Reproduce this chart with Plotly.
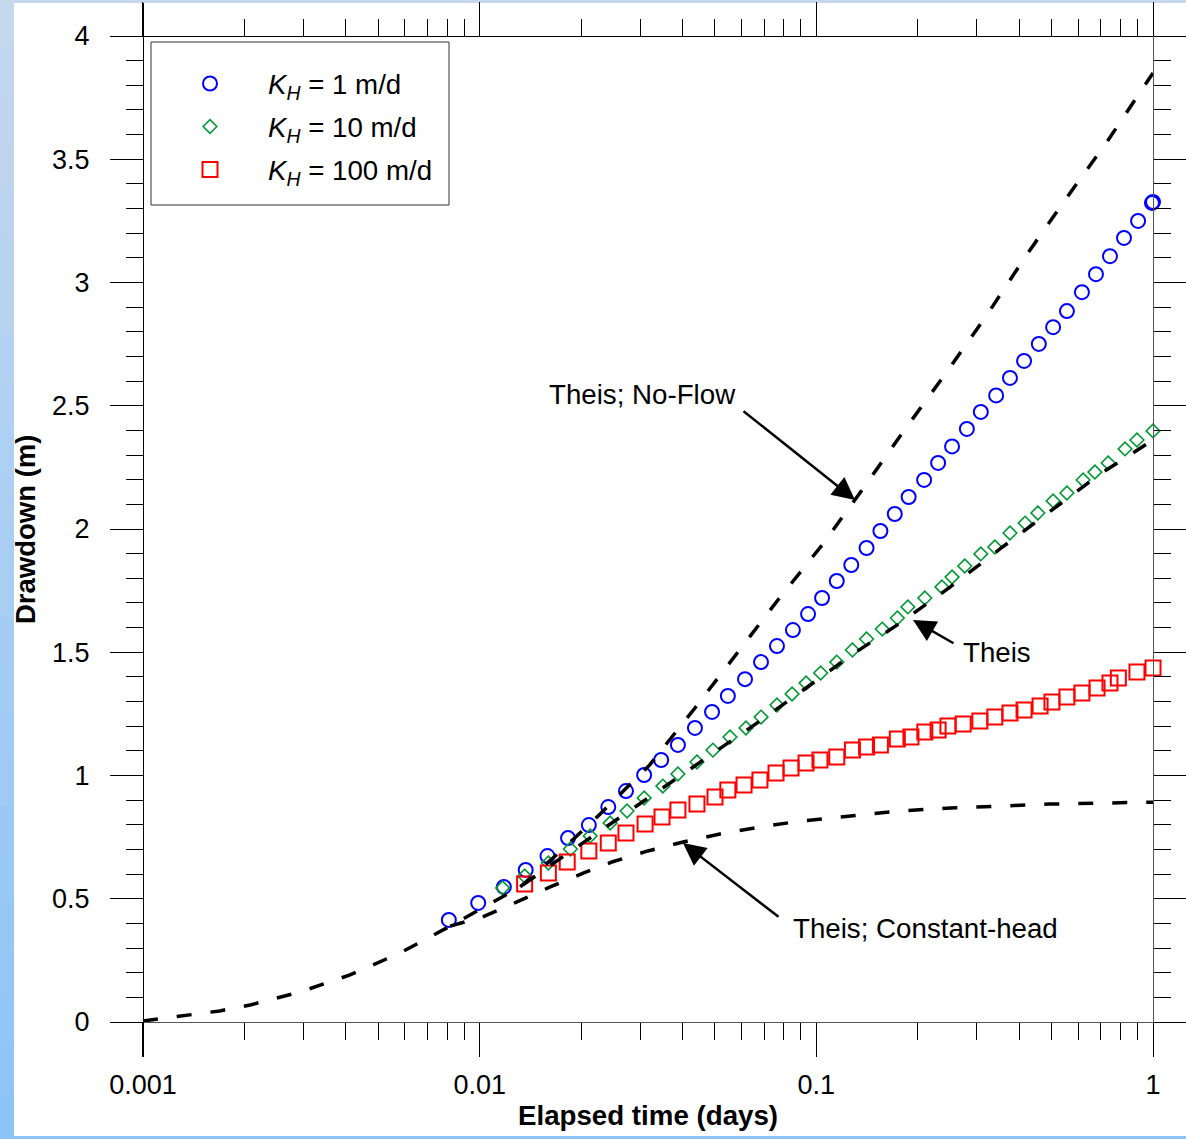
import plotly.graph_objects as go

# ---------------- data ----------------
t_kh1 = [0.0081, 0.0099, 0.0118, 0.0137, 0.0159, 0.0183, 0.0211, 0.0241, 0.0272, 0.0308,
         0.0346, 0.0388, 0.0436, 0.049, 0.0546, 0.0614, 0.0685, 0.0764, 0.0852, 0.0945,
         0.104, 0.115, 0.127, 0.141, 0.155, 0.171, 0.188, 0.209, 0.23, 0.253,
         0.28, 0.308, 0.342, 0.376, 0.414, 0.458, 0.505, 0.555, 0.615, 0.677,
         0.745, 0.82, 0.903, 0.993, 1.0]
s_kh1 = [0.414, 0.483, 0.548, 0.617, 0.673, 0.746, 0.799, 0.872, 0.937, 1.002,
         1.063, 1.124, 1.193, 1.258, 1.323, 1.391, 1.460, 1.525, 1.590, 1.655,
         1.720, 1.789, 1.854, 1.923, 1.992, 2.061, 2.130, 2.199, 2.268, 2.335,
         2.406, 2.475, 2.542, 2.613, 2.682, 2.751, 2.819, 2.884, 2.961, 3.034,
         3.107, 3.181, 3.250, 3.323, 3.327]

t_kh10 = [0.0117, 0.0136, 0.016, 0.0186, 0.0213, 0.0244, 0.0274, 0.0308, 0.035, 0.0388,
          0.0442, 0.0493, 0.0554, 0.0618, 0.0685, 0.0764, 0.0847, 0.0932, 0.103, 0.115,
          0.128, 0.141, 0.157, 0.174, 0.187, 0.21, 0.236, 0.253, 0.276, 0.308,
          0.339, 0.376, 0.417, 0.455, 0.505, 0.555, 0.62, 0.672, 0.736, 0.826,
          0.896, 1.0]
s_kh10 = [0.544, 0.592, 0.645, 0.702, 0.755, 0.807, 0.856, 0.909, 0.957, 1.006,
          1.055, 1.103, 1.156, 1.193, 1.237, 1.286, 1.331, 1.375, 1.416, 1.460,
          1.509, 1.554, 1.594, 1.639, 1.684, 1.720, 1.765, 1.805, 1.850, 1.899,
          1.927, 1.984, 2.024, 2.065, 2.114, 2.146, 2.199, 2.231, 2.268, 2.325,
          2.361, 2.398]

t_kh100 = [0.0136, 0.016, 0.0182, 0.0211, 0.0241, 0.0272, 0.031, 0.0348, 0.0388, 0.0442,
           0.05, 0.0546, 0.061, 0.068, 0.0759, 0.0841, 0.0932, 0.1025, 0.115, 0.128,
           0.141, 0.155, 0.174, 0.191, 0.21, 0.23, 0.246, 0.273, 0.306, 0.339,
           0.376, 0.414, 0.462, 0.501, 0.555, 0.615, 0.682, 0.745, 0.789, 0.896, 1.0]
s_kh100 = [0.560, 0.604, 0.649, 0.694, 0.726, 0.767, 0.803, 0.832, 0.860, 0.884,
           0.913, 0.941, 0.961, 0.982, 1.010, 1.030, 1.051, 1.063, 1.075, 1.103,
           1.116, 1.124, 1.148, 1.156, 1.176, 1.185, 1.201, 1.209, 1.221, 1.237,
           1.254, 1.266, 1.282, 1.298, 1.318, 1.335, 1.355, 1.375, 1.396, 1.420, 1.436]

t_theis = [0.001, 0.00133, 0.00169, 0.00208, 0.00293, 0.00412, 0.0058, 0.00817, 0.0102, 0.0132,
           0.0173, 0.0228, 0.032, 0.0493, 0.068, 0.0932, 0.126, 0.174, 0.25, 0.351,
           0.505, 0.696, 1.0]
s_theis = [0.004, 0.028, 0.045, 0.069, 0.122, 0.191, 0.280, 0.389, 0.462, 0.548,
           0.662, 0.775, 0.913, 1.091, 1.221, 1.355, 1.485, 1.611, 1.765, 1.919,
           2.081, 2.223, 2.361]

t_noflow = [0.0132, 0.0173, 0.0228, 0.032, 0.0436, 0.0581, 0.0769, 0.104, 0.138, 0.181,
            0.244, 0.321, 0.425, 0.559, 0.736, 1.0]
s_noflow = [0.548, 0.690, 0.844, 1.043, 1.274, 1.497, 1.712, 1.935, 2.166, 2.394,
            2.637, 2.868, 3.120, 3.351, 3.578, 3.850]

t_chead = [0.00817, 0.0102, 0.0129, 0.0162, 0.0203, 0.0247, 0.0316, 0.0402, 0.0517, 0.068,
           0.0895, 0.126, 0.177, 0.25, 0.351, 0.494, 0.696, 1.0]
s_chead = [0.389, 0.426, 0.487, 0.548, 0.604, 0.649, 0.694, 0.730, 0.763, 0.791,
           0.815, 0.836, 0.856, 0.868, 0.876, 0.884, 0.888, 0.892]

x_major = [0.001, 0.01, 0.1, 1]
x_major_text = ["0.001", "0.01", "0.1", "1"]
x_minor = [m * d for d in (0.001, 0.01, 0.1) for m in range(2, 10)]
y_major = [0, 0.5, 1, 1.5, 2, 2.5, 3, 3.5, 4]
y_major_text = ["0", "0.5", "1", "1.5", "2", "2.5", "3", "3.5", "4"]
y_minor = [round(i * 0.1, 1) for i in range(1, 40) if i % 5 != 0]

# ---------------- layout constants ----------------
W, H = 1186, 1139
ML, MR, MT, MB = 110, 0, 3, 82
XMIN, XMAX = -3.098, 0.098      # log10 range of the plot frame
YMIN, YMAX = -0.142, 4.134
FONT = "Arial, Liberation Sans, sans-serif"

def xpos(v):  # paper fraction of a log10 x value
    return (v - XMIN) / (XMAX - XMIN)

def ypos(v):
    return (v - YMIN) / (YMAX - YMIN)

def px2paper_x(px):
    return (px - ML) / (W - ML - MR)

def px2paper_y(py):
    return (H - MB - py) / (H - MT - MB)

fig = go.Figure()

mk = dict(mode="markers", hoverinfo="skip")
fig.add_trace(go.Scatter(x=t_kh1, y=s_kh1, name="<i>K</i><sub><i>H</i></sub> = 1 m/d",
                         legendgroup="a",
                         marker=dict(symbol="circle-open", size=14, color="#0000ff",
                                     line=dict(width=2, color="#0000ff")), **mk))
fig.add_trace(go.Scatter(x=t_kh10, y=s_kh10, name="<i>K</i><sub><i>H</i></sub> = 10 m/d",
                         legendgroup="b",
                         marker=dict(symbol="diamond-open", size=10.5, color="#009933",
                                     line=dict(width=1.6, color="#009933")), **mk))
fig.add_trace(go.Scatter(x=t_kh100, y=s_kh100, name="<i>K</i><sub><i>H</i></sub> = 100 m/d",
                         legendgroup="c",
                         marker=dict(symbol="square-open", size=15, color="#ff0000",
                                     line=dict(width=2, color="#ff0000")), **mk))

ln = dict(mode="lines", showlegend=False, hoverinfo="skip",
          line=dict(color="black", width=3.5, dash="15px,19px"))
fig.add_trace(go.Scatter(x=t_theis, y=s_theis, **ln))
fig.add_trace(go.Scatter(x=t_noflow, y=s_noflow, **ln))
fig.add_trace(go.Scatter(x=t_chead, y=s_chead, **ln))
# companion axes (top / right frame)
fig.add_trace(go.Scatter(x=[None], y=[None], xaxis="x2", yaxis="y2", showlegend=False,
                         hoverinfo="skip", mode="markers"))

# ---------------- background ----------------
shapes = []
top_c = (197, 216, 238)
bot_c = (140, 196, 247)
n = 24
for i in range(n):
    f = (i + 0.5) / n
    c = tuple(int(round(top_c[k] + (bot_c[k] - top_c[k]) * f)) for k in range(3))
    y0 = i * H / n
    y1 = (i + 1) * H / n + 1
    shapes.append(dict(type="rect", xref="paper", yref="paper", layer="below",
                       x0=px2paper_x(0), x1=px2paper_x(14), y0=px2paper_y(y1), y1=px2paper_y(y0),
                       line=dict(width=0), fillcolor="rgb(%d,%d,%d)" % c))
shapes.append(dict(type="rect", xref="paper", yref="paper", layer="below",
                   x0=px2paper_x(0), x1=px2paper_x(W), y0=px2paper_y(3), y1=px2paper_y(0),
                   line=dict(width=0), fillcolor="rgb(197,216,238)"))
shapes.append(dict(type="rect", xref="paper", yref="paper", layer="below",
                   x0=px2paper_x(0), x1=px2paper_x(W), y0=px2paper_y(H), y1=px2paper_y(1136),
                   line=dict(width=0), fillcolor="rgb(140,196,247)"))
shapes.append(dict(type="rect", xref="paper", yref="paper", layer="below",
                   x0=px2paper_x(14), x1=px2paper_x(W), y0=px2paper_y(1136), y1=px2paper_y(3),
                   line=dict(width=0), fillcolor="white"))
# legend frame
shapes.append(dict(type="rect", xref="paper", yref="paper", layer="above",
                   x0=px2paper_x(151), x1=px2paper_x(449), y0=px2paper_y(205), y1=px2paper_y(42),
                   line=dict(width=1, color="#333"), fillcolor="white"))

# ---------------- annotations ----------------
tf = dict(family=FONT, size=27.7, color="black")
ann = []
ann.append(dict(x=-1.5149, y=2.544, xref="x", yref="y", text="Theis; No-Flow",
                showarrow=False, font=tf))
ann.append(dict(x=-0.4634, y=1.501, xref="x", yref="y", text="Theis",
                showarrow=False, font=tf))
ann.append(dict(x=-0.6743, y=0.381, xref="x", yref="y", text="Theis; Constant-head",
                showarrow=False, font=tf))
arr = dict(xref="x", yref="y", axref="x", ayref="y", text="", showarrow=True,
           arrowhead=2, arrowsize=1.8, arrowwidth=2.5, arrowcolor="black")
ann.append(dict(x=-0.8852, y=2.118, ax=-1.2208, ay=2.483, **arr))
ann.append(dict(x=-0.7129, y=1.631, ax=-0.5881, ay=1.533, **arr))
ann.append(dict(x=-1.3961, y=0.726, ax=-1.1079, ay=0.422, **arr))
ann.append(dict(x=px2paper_x(25), y=px2paper_y(530), xref="paper", yref="paper",
                xanchor="center", yanchor="middle", text="<b>Drawdown (m)</b>",
                textangle=-90, showarrow=False, font=dict(family=FONT, size=27.5, color="black")))
ann.append(dict(x=px2paper_x(648), y=px2paper_y(1115), xref="paper", yref="paper",
                xanchor="center", yanchor="middle", text="<b>Elapsed time (days)</b>",
                showarrow=False, font=dict(family=FONT, size=27.7, color="black")))

axis_common = dict(showgrid=False, zeroline=False, showline=True, linewidth=1,
                   ticks="outside", tickwidth=1, tickcolor="black", automargin=False)
tickf = dict(family=FONT, size=27, color="black")

fig.update_layout(
    width=W, height=H, autosize=False,
    margin=dict(l=ML, r=MR, t=MT, b=MB, pad=0),
    paper_bgcolor="white", plot_bgcolor="white",
    font=dict(family=FONT, size=26, color="black"),
    shapes=shapes, annotations=ann,
    xaxis=dict(type="log", range=[XMIN, XMAX], domain=[0, 1], anchor="free",
               position=ypos(0), tickmode="array", tickvals=x_major, ticktext=x_major_text,
               ticklen=34, linecolor="#555", tickfont=tickf, ticklabelstandoff=5,
               minor=dict(tickmode="array", tickvals=x_minor, ticks="outside", ticklen=17,
                          tickwidth=1, tickcolor="black", showgrid=False),
               **axis_common),
    xaxis2=dict(type="log", range=[XMIN, XMAX], domain=[0, 1], anchor="free", overlaying="x",
                side="top", position=ypos(4), tickmode="array", tickvals=x_major,
                showticklabels=False, ticklen=34, linecolor="black",
                minor=dict(tickmode="array", tickvals=x_minor, ticks="outside", ticklen=17,
                           tickwidth=1, tickcolor="black", showgrid=False),
                **axis_common),
    yaxis=dict(range=[YMIN, YMAX], domain=[0, 1], anchor="free", position=xpos(-3),
               tickmode="array", tickvals=y_major, ticktext=y_major_text, ticklen=33,
               linecolor="black", tickfont=tickf, ticklabelstandoff=15,
               minor=dict(tickmode="array", tickvals=y_minor, ticks="outside", ticklen=17,
                          tickwidth=1, tickcolor="black", showgrid=False),
               **axis_common),
    yaxis2=dict(range=[YMIN, YMAX], domain=[0, 1], anchor="free", overlaying="y", side="right",
                position=xpos(0), tickmode="array", tickvals=y_major, showticklabels=False,
                ticklen=33, linecolor="#555",
                minor=dict(tickmode="array", tickvals=y_minor, ticks="outside", ticklen=17,
                           tickwidth=1, tickcolor="black", showgrid=False),
                **axis_common),
    legend=dict(x=px2paper_x(152), y=px2paper_y(59), xanchor="left", yanchor="top",
                bgcolor="rgba(0,0,0,0)", borderwidth=0,
                font=dict(family=FONT, size=27.7, color="black"),
                itemwidth=106, tracegroupgap=4),
    showlegend=True,
)

fig.write_html("out.html")
